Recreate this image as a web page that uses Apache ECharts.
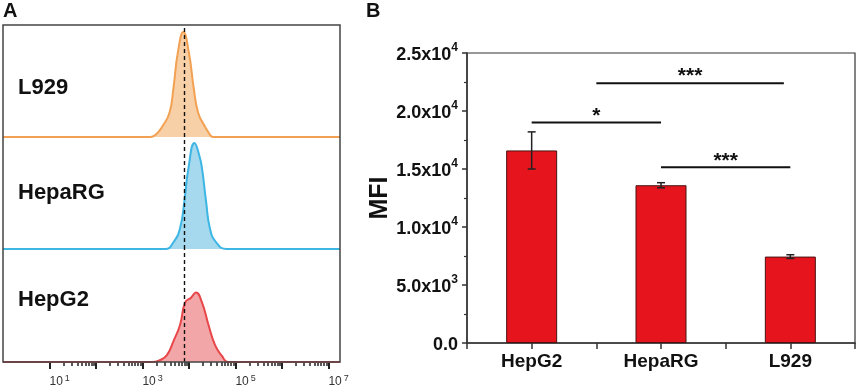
<!DOCTYPE html>
<html>
<head>
<meta charset="utf-8">
<script src="https://cdn.jsdelivr.net/npm/echarts@6/dist/echarts.min.js"></script>
<style>
  html, body { margin: 0; padding: 0; background: #fff; }
  #chart { width: 858px; height: 392px; }
</style>
</head>
<body>
<div id="chart"></div>
<script>
// panel A - flow histograms, x = log10(fluorescence), y = relative count
var histNames = ['L929', 'HepaRG', 'HepG2']
var l929Hist = [[0, 0], [3.17, 0], [3.3, 3], [3.42, 10], [3.58, 24], [3.67, 50], [3.76, 84], [3.88, 105],
  [4.0, 84], [4.1, 50], [4.2, 24], [4.35, 10], [4.43, 4], [4.52, 0], [7.25, 0]]
var hepaRGHist = [[0, 0], [3.49, 0], [3.67, 7], [3.81, 21], [3.9, 47], [3.99, 81], [4.12, 106],
  [4.22, 94], [4.28, 81], [4.37, 47], [4.45, 21], [4.58, 7], [4.81, 0], [7.25, 0]]
var hepG2Hist = [[0, 0], [3.2, 0], [3.38, 2], [3.53, 7], [3.67, 21], [3.81, 37], [3.92, 59], [4.05, 64],
  [4.15, 69], [4.28, 59], [4.42, 37], [4.56, 17], [4.71, 6], [4.85, 0], [7.25, 0]]
var gateLog = 3.9
var majorDecades = [1, 2, 3, 4, 5, 6, 7]
var labelDecades = [1, 3, 5, 7]

// panel B - mean fluorescence intensity
var cells = ['HepG2', 'HepaRG', 'L929']
var mfi = [16600, 13600, 7450]
var mfiErr = [1600, 220, 160]
var sigPairs = [[1, 2, 19000], [1.5, 2.95, 22400], [2, 3, 15150]]
var sigLabels = ['*', '***', '***']

var FONT = 'Liberation Sans, Arial, sans-serif'
var histData = [l929Hist, hepaRGHist, hepG2Hist]
var lineColors = ['#F2A152', '#3DB6E3', '#E8474A']
var fillColors = ['#F8D0A8', '#A6D9EE', '#F3A6A7']

// minor log ticks (2..9 in every decade)
var minorTicks = []
for (var d = 1; d < 7; d++) {
  for (var k = 2; k < 10; k++) minorTicks.push(d + Math.log10(k))
}

var chart = echarts.init(document.getElementById('chart'))

var grids = [
  { left: 3, top: 25, width: 337, height: 112 },
  { left: 3, top: 137, width: 337, height: 112 },
  { left: 3, top: 249, width: 337, height: 113 },
  { left: 467, top: 53, right: 2, bottom: 49, show: true, borderColor: '#333', borderWidth: 1.2 }
]

var xAxes = [0, 1, 2].map(function (i) {
  return {
    type: 'value', gridIndex: i, min: 0, max: 7.25,
    axisLine: { show: false }, splitLine: { show: false },
    axisTick: {
      show: i === 2, length: 7, customValues: majorDecades,
      lineStyle: { color: '#222', width: 2 }
    },
    axisLabel: {
      show: i === 2, customValues: labelDecades, margin: 12, align: 'left',
      formatter: function (v) { return '{n|10}{s|' + v + '}' },
      rich: {
        n: { fontSize: 12, color: '#333', fontFamily: FONT, lineHeight: 16 },
        s: { fontSize: 9, color: '#333', fontFamily: FONT, verticalAlign: 'top', lineHeight: 10, padding: [0, 0, 0, 2] }
      }
    }
  }
})
// extra axis on the bottom histogram only for the short minor ticks
xAxes.push({
  type: 'value', gridIndex: 2, min: 0, max: 7.25, position: 'bottom',
  axisLine: { show: false }, splitLine: { show: false }, axisLabel: { show: false },
  axisTick: { length: 4, customValues: minorTicks, lineStyle: { color: '#222', width: 1.5 } }
})
xAxes.push({
  type: 'value', gridIndex: 3, min: 0.5, max: 3.5, interval: 0.5,
  splitLine: { show: false },
  axisLine: { lineStyle: { color: '#333', width: 1.5 } },
  axisTick: { length: 6, lineStyle: { color: '#333', width: 1.5 } },
  axisLabel: {
    margin: 9, color: '#111', fontSize: 19, fontWeight: 'bold', fontFamily: FONT,
    formatter: function (v) { return Number.isInteger(v) ? cells[v - 1] : '' }
  }
})

var yAxes = [0, 1, 2].map(function (i) {
  return { type: 'value', gridIndex: i, min: 0, max: 112, show: false }
})
yAxes.push({
  type: 'value', gridIndex: 3, min: 0, max: 25000, interval: 5000,
  name: 'MFI', nameLocation: 'middle', nameGap: 74,
  nameTextStyle: { fontSize: 25, fontWeight: 'bold', color: '#111', fontFamily: FONT },
  splitLine: { show: false },
  axisLine: { lineStyle: { color: '#333', width: 1.5 } },
  axisTick: { length: 5, lineStyle: { color: '#333', width: 1.5 } },
  minorTick: { show: true, splitNumber: 2, length: 3, lineStyle: { color: '#333', width: 1.2 } },
  axisLabel: {
    margin: 9,
    formatter: function (v) {
      if (v === 0) return '{b|0.0}'
      var e = Math.floor(Math.log10(v))
      return '{b|' + (v / Math.pow(10, e)).toFixed(1) + 'x10}{s|' + e + '}'
    },
    rich: {
      b: { fontSize: 18, fontWeight: 'bold', color: '#111', fontFamily: FONT, lineHeight: 22, padding: [4, 0, 0, 0] },
      s: { fontSize: 12, fontWeight: 'bold', color: '#111', fontFamily: FONT, verticalAlign: 'top', lineHeight: 12 }
    }
  }
})

var series = histData.map(function (data, i) {
  return {
    type: 'line', xAxisIndex: i, yAxisIndex: i, data: data,
    smooth: 0.5, symbol: 'none',
    lineStyle: { color: lineColors[i], width: 2 },
    areaStyle: { color: fillColors[i], opacity: 1 },
    markLine: {
      silent: true, symbol: 'none', label: { show: false },
      lineStyle: { color: '#111', type: [4, 3], width: 1.4 },
      data: [{ xAxis: gateLog }]
    }
  }
})

series.push({
  type: 'bar', xAxisIndex: 4, yAxisIndex: 3, barWidth: 51,
  data: mfi.map(function (v, i) { return [i + 1, v] }),
  itemStyle: { color: '#E6141D', borderColor: '#4a1212', borderWidth: 1 }
})

// error bars
series.push({
  type: 'custom', xAxisIndex: 4, yAxisIndex: 3, z: 5,
  data: mfi.map(function (v, i) { return [i + 1, v - mfiErr[i], v + mfiErr[i]] }),
  renderItem: function (params, api) {
    var lo = api.coord([api.value(0), api.value(1)])
    var hi = api.coord([api.value(0), api.value(2)])
    var st = { stroke: '#222', lineWidth: 1.5 }
    return {
      type: 'group',
      children: [
        { type: 'line', shape: { x1: lo[0], y1: lo[1], x2: hi[0], y2: hi[1] }, style: st },
        { type: 'line', shape: { x1: lo[0] - 4, y1: lo[1], x2: lo[0] + 4, y2: lo[1] }, style: st },
        { type: 'line', shape: { x1: hi[0] - 4, y1: hi[1], x2: hi[0] + 4, y2: hi[1] }, style: st }
      ]
    }
  }
})

// significance brackets
series.push({
  type: 'custom', xAxisIndex: 4, yAxisIndex: 3, z: 5,
  data: sigPairs,
  renderItem: function (params, api) {
    var a = api.coord([api.value(0), api.value(2)])
    var b = api.coord([api.value(1), api.value(2)])
    return {
      type: 'group',
      children: [
        { type: 'line', shape: { x1: a[0], y1: a[1], x2: b[0], y2: b[1] }, style: { stroke: '#111', lineWidth: 2 } },
        {
          type: 'text',
          style: {
            text: sigLabels[params.dataIndex], x: (a[0] + b[0]) / 2, y: a[1] + 4,
            align: 'center', verticalAlign: 'bottom', fill: '#111',
            font: 'bold 21px ' + FONT
          }
        }
      ]
    }
  }
})

var graphics = [
  { type: 'rect', shape: { x: 3, y: 25, width: 337, height: 337 }, style: { fill: 'none', stroke: '#444', lineWidth: 1.5 }, z: 10 },
  { type: 'text', left: 3, top: 1, style: { text: 'A', font: 'bold 20px ' + FONT, fill: '#111' } },
  { type: 'text', left: 366, top: 1, style: { text: 'B', font: 'bold 20px ' + FONT, fill: '#111' } }
]
var labelY = [88, 193, 300]
histNames.forEach(function (n, i) {
  graphics.push({
    type: 'text', x: 18, y: labelY[i],
    style: { text: n, font: 'bold 22px ' + FONT, fill: '#111', verticalAlign: 'middle' }
  })
})

chart.setOption({
  animation: false,
  grid: grids,
  xAxis: xAxes,
  yAxis: yAxes,
  series: series,
  graphic: graphics
})
</script>
</body>
</html>
